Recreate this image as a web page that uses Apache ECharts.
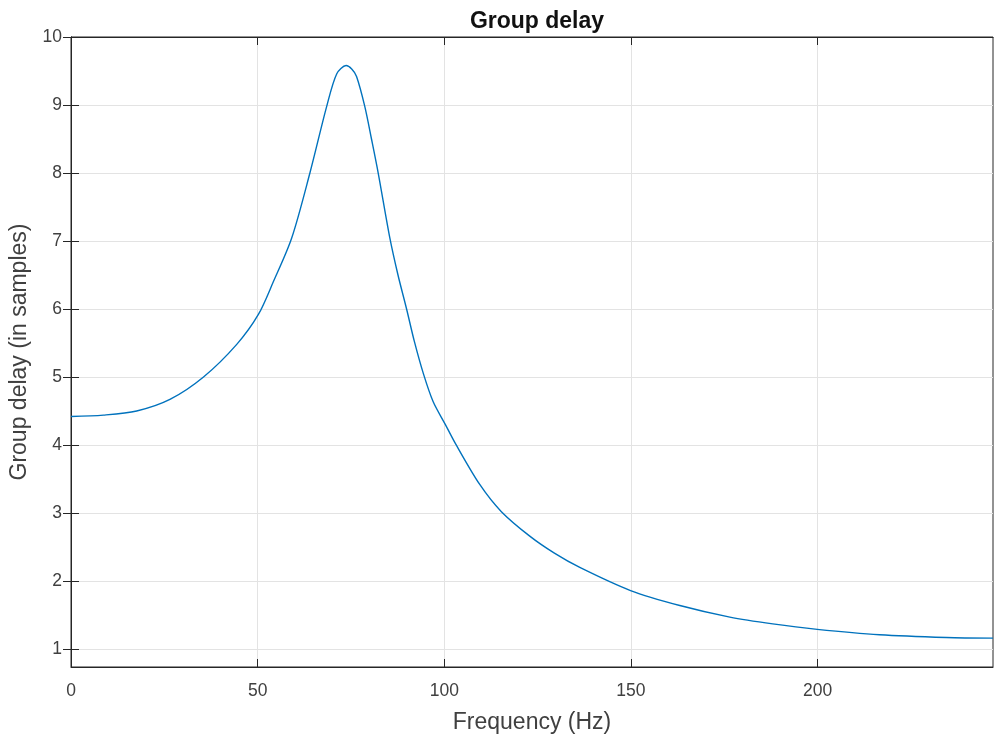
<!DOCTYPE html>
<html>
<head>
<meta charset="utf-8">
<script src="https://cdn.jsdelivr.net/npm/echarts@6/dist/echarts.min.js"></script>
<style>html,body{margin:0;padding:0;background:#fff;}#c{width:994px;height:739px;}</style>
</head>
<body>
<div id="c"></div>
<script>
const titleText = 'Group delay';
const xName = 'Frequency (Hz)';
const yName = 'Group delay (in samples)';
const freq = [0, 8.7, 17.6, 26.5, 35.5, 44.4, 50.2, 54.2, 59.1, 64.0, 68.5, 71.2, 73.7, 75.2, 76.5, 78.7, 80.5, 82.3, 85.4, 87.6, 89.9, 92.0, 94.4, 97.0, 100.3, 103.0, 109.5, 115.3, 122.9, 129.5, 136.3, 149.9, 163.1, 176.5, 188.0, 199.9, 216.6, 234.5, 247];
const delay = [4.42, 4.44, 4.50, 4.67, 5.00, 5.48, 5.92, 6.40, 7.04, 8.00, 8.98, 9.46, 9.58, 9.53, 9.42, 8.98, 8.50, 8.00, 7.05, 6.50, 6.00, 5.52, 5.05, 4.64, 4.30, 4.02, 3.42, 3.02, 2.66, 2.41, 2.20, 1.86, 1.64, 1.47, 1.37, 1.29, 1.21, 1.17, 1.16];
const xTicks = [0, 50, 100, 150, 200];
const yTicks = [1, 2, 3, 4, 5, 6, 7, 8, 9, 10];
const xMin = 0, xMax = 247, yMin = 0.736, yMax = 10;

const txt = '#404040';
const font = '"Liberation Sans", Arial, Helvetica, sans-serif';
const chart = echarts.init(document.getElementById('c'), null, {renderer: 'canvas'});
const axisLineStyle = {show: true, lineStyle: {color: '#262626', width: 1}};
chart.setOption({
  animation: false,
  backgroundColor: '#fff',
  title: {text: titleText, left: 532, top: 5, textAlign: 'center',
    textStyle: {fontFamily: font, fontWeight: 'bold', fontSize: 23, color: '#111'}},
  grid: {left: 71, right: 1, top: 37, bottom: 71, show: true, borderColor: '#262626', borderWidth: 1, backgroundColor: 'transparent'},
  xAxis: [{
    type: 'value', min: xMin, max: xMax, position: 'bottom',
    name: xName, nameLocation: 'middle', nameGap: 44,
    nameTextStyle: {fontFamily: font, fontSize: 23, color: txt},
    axisLine: axisLineStyle,
    axisTick: {show: true, inside: true, length: 8, customValues: xTicks, lineStyle: {color: '#262626'}},
    axisLabel: {customValues: xTicks, margin: 15, fontFamily: font, fontSize: 17.5, color: txt},
    splitLine: {show: true, lineStyle: {color: '#e3e3e3', width: 1}}
  }, {
    type: 'value', min: xMin, max: xMax, position: 'top',
    axisLine: axisLineStyle,
    axisTick: {show: true, inside: true, length: 8, customValues: xTicks, lineStyle: {color: '#262626'}},
    axisLabel: {show: false}, splitLine: {show: false}
  }],
  yAxis: [{
    type: 'value', min: yMin, max: yMax, position: 'left',
    name: yName, nameLocation: 'middle', nameGap: 39, nameRotate: 90,
    nameTextStyle: {fontFamily: font, fontSize: 23, color: txt},
    axisLine: axisLineStyle,
    axisTick: {show: true, inside: true, length: 8, customValues: yTicks, lineStyle: {color: '#262626'}},
    axisLabel: {customValues: yTicks, margin: 9, fontFamily: font, fontSize: 17.5, color: txt},
    splitLine: {show: true, lineStyle: {color: '#e3e3e3', width: 1}}
  }, {
    type: 'value', min: yMin, max: yMax, position: 'right',
    axisLine: axisLineStyle,
    axisTick: {show: true, inside: true, length: 8, customValues: yTicks, lineStyle: {color: '#262626'}},
    axisLabel: {show: false}, splitLine: {show: false}
  }],
  series: [{
    type: 'line', xAxisIndex: 0, yAxisIndex: 0,
    data: freq.map((f, i) => [f, delay[i]]),
    smooth: 0.3, showSymbol: false, symbol: 'none',
    lineStyle: {color: '#0072BD', width: 1.4}
  }]
});
</script>
</body>
</html>
